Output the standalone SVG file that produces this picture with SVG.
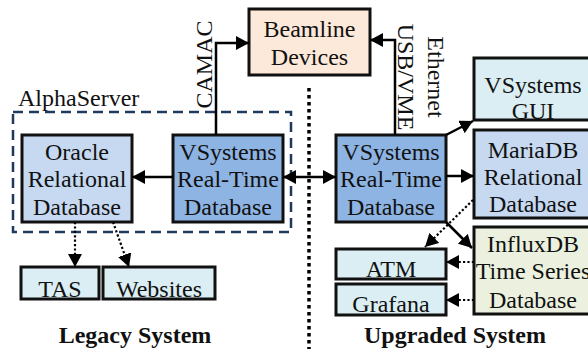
<svg xmlns="http://www.w3.org/2000/svg" width="588" height="349" viewBox="0 0 588 349">
<defs>
<style>
text{font-family:"Liberation Serif","Times New Roman",serif;font-size:24px;fill:#111;}
.c{text-anchor:middle;}
.b{font-weight:bold;}
.box{stroke:#111;stroke-width:3;}
.rt{fill:#8eb4e3;}
.rel{fill:#c6d9f1;}
.cy{fill:#daeef3;}
.pe{fill:#fde9d9;}
.gr{fill:#ebf1de;}
.ln{fill:none;stroke:#000;stroke-width:2.5;}
.dt{fill:none;stroke:#000;stroke-width:2.2;stroke-dasharray:2.2 2.2;}
</style>
<marker id="ah" markerUnits="userSpaceOnUse" markerWidth="14" markerHeight="14" refX="13" refY="7" orient="auto-start-reverse" viewBox="0 0 14 14">
<path d="M0,0 L13,7 L0,14 z" fill="#000"/>
</marker>
</defs>
<rect width="588" height="349" fill="#fff"/>

<!-- divider and AlphaServer frame -->
<line x1="309" y1="88" x2="309" y2="349" stroke="#000" stroke-width="3.5" stroke-dasharray="3.5 3.5"/>
<g id="alphaserver">
<rect x="13" y="112" width="278" height="120" fill="none" stroke="#1f3a5c" stroke-width="2.5" stroke-dasharray="10 6"/>
<text x="18" y="106">AlphaServer</text>
</g>

<g id="beamline">
<rect class="box pe" x="249" y="9" width="121" height="66"/>
<text class="c" x="309.5" y="37">Beamline</text>
<text class="c" x="309.5" y="65">Devices</text>
</g>

<g id="oracle">
<rect class="box rel" x="22" y="135" width="110" height="87"/>
<text class="c" x="77" y="160">Oracle</text>
<text class="c" x="77" y="187">Relational</text>
<text class="c" x="77" y="215">Database</text>
</g>

<g id="vsys-legacy">
<rect class="box rt" x="173" y="135" width="110" height="87"/>
<text class="c" x="228" y="160">VSystems</text>
<text class="c" x="228" y="187">Real-Time</text>
<text class="c" x="228" y="215">Database</text>
</g>

<g id="tas">
<rect class="box cy" x="21" y="267" width="78" height="32"/>
<text class="c" x="60" y="297">TAS</text>
</g>
<g id="websites">
<rect class="box cy" x="103" y="267" width="112" height="32"/>
<text class="c" x="159" y="297">Websites</text>
</g>

<g id="vsys-upgraded">
<rect class="box rt" x="336" y="135" width="110" height="87"/>
<text class="c" x="391" y="160">VSystems</text>
<text class="c" x="391" y="187">Real-Time</text>
<text class="c" x="391" y="215">Database</text>
</g>

<g id="gui">
<rect class="box cy" x="474" y="58" width="120" height="62"/>
<text class="c" x="533" y="93">VSystems</text>
<text class="c" x="533" y="119">GUI</text>
</g>

<g id="mariadb">
<rect class="box rel" x="474" y="130" width="120" height="88"/>
<text class="c" x="533" y="158">MariaDB</text>
<text class="c" x="533" y="185">Relational</text>
<text class="c" x="533" y="212">Database</text>
</g>

<g id="influxdb">
<rect class="box gr" x="474" y="227" width="120" height="87"/>
<text class="c" x="533" y="252">InfluxDB</text>
<text class="c" x="533" y="279">Time Series</text>
<text class="c" x="533" y="308">Database</text>
</g>

<g id="atm">
<rect class="box cy" x="336" y="249" width="110" height="30"/>
<text class="c" x="391" y="277">ATM</text>
</g>
<g id="grafana">
<rect class="box cy" x="336" y="284" width="110" height="31"/>
<text class="c" x="391" y="312">Grafana</text>
</g>

<g id="connectors">
<path class="ln" d="M216,135 V43 H249" marker-end="url(#ah)"/>
<path class="ln" d="M395,135 V40 H370" marker-end="url(#ah)"/>
<line class="ln" x1="173" y1="177" x2="132" y2="177" marker-end="url(#ah)"/>
<line class="ln" x1="283" y1="177" x2="336" y2="177" marker-start="url(#ah)" marker-end="url(#ah)"/>
<line class="ln" x1="446" y1="176" x2="474" y2="176" marker-end="url(#ah)"/>
<line class="ln" x1="446" y1="135" x2="473" y2="121" marker-end="url(#ah)"/>
<line class="ln" x1="446" y1="222" x2="472" y2="248" marker-end="url(#ah)"/>
<line class="dt" x1="75" y1="222" x2="75" y2="267" marker-end="url(#ah)"/>
<line class="dt" x1="113" y1="222" x2="129" y2="267" marker-end="url(#ah)"/>
<line class="dt" x1="473" y1="200" x2="425" y2="247" marker-end="url(#ah)"/>
<line class="dt" x1="474" y1="262" x2="446" y2="262" marker-end="url(#ah)"/>
<line class="dt" x1="474" y1="300" x2="446" y2="300" marker-end="url(#ah)"/>
<text class="c" transform="translate(212,64.5) rotate(-90)">CAMAC</text>
<text class="c" transform="translate(398,77) rotate(90)">USB/VME</text>
<text class="c" transform="translate(428,77) rotate(90)">Ethernet</text>
</g>

<text class="c b" x="135" y="343">Legacy System</text>
<text class="c b" x="455" y="343">Upgraded System</text>
</svg>
